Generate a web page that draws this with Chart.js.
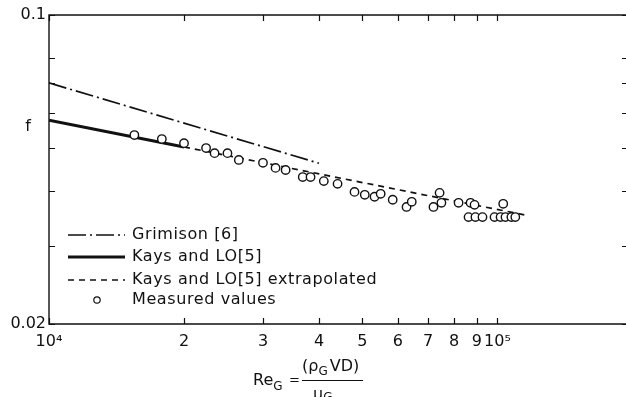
<!DOCTYPE html>
<html><head><meta charset="utf-8">
<script src="https://cdn.jsdelivr.net/npm/chart.js@4"></script>
<style>html,body{margin:0;padding:0;background:#fff;overflow:hidden}#wrap{width:626px;height:397px;position:relative}</style>
</head><body><div id="wrap"><canvas id="c" width="626" height="397"></canvas></div>
<script>
// ---- data ----
const grimisonRe = [1e4, 4e4];
const grimisonF  = [0.0702, 0.0462];
const kaysRe = [1e4, 2e4];
const kaysF  = [0.0578, 0.0503];
const extrapRe = [2e4, 1.15e5];
const extrapF  = [0.0503, 0.0353];
const measuredRe = [1.55e4,1.785e4,2.0e4,2.24e4,2.34e4,2.50e4,2.65e4,3.0e4,3.2e4,3.37e4,3.68e4,3.83e4,4.10e4,4.40e4,4.80e4,5.06e4,5.32e4,5.49e4,5.84e4,6.27e4,6.44e4,7.2e4,7.43e4,7.5e4,8.19e4,8.71e4,8.89e4,8.62e4,8.93e4,9.26e4,1.03e5,9.85e4,1.016e5,1.042e5,1.074e5,1.096e5];
const measuredF  = [0.0535,0.0524,0.0513,0.0500,0.0487,0.0487,0.0470,0.0463,0.0451,0.0446,0.0430,0.0430,0.0421,0.0415,0.0398,0.0392,0.0388,0.0394,0.0382,0.0368,0.0378,0.0368,0.0396,0.0376,0.0376,0.0376,0.0372,0.0349,0.0349,0.0349,0.0374,0.0349,0.0349,0.0349,0.0349,0.0349];
const xTickValues = [1e4,2e4,3e4,4e4,5e4,6e4,7e4,8e4,9e4,1e5];
const xTickLabels = ['10\u2074','2','3','4','5','6','7','8','9','10\u2075'];
const yTickValues = [0.02,0.03,0.04,0.05,0.06,0.07,0.08,0.1];
const yTickLabels = ['0.02','','','','','','','0.1'];
const legendLabels = ['Grimison [6]','Kays and LO[5]','Kays and LO[5] extrapolated','Measured values'];

const pts = (xs, ys) => xs.map((x, i) => ({x: x, y: ys[i]}));
const FONT = 'DejaVu Sans';
const INK = '#111';

const decor = {
  id: 'decor',
  afterDatasetsDraw(chart) {
    const ctx = chart.ctx, a = chart.chartArea;
    const xs = chart.scales.x, ys = chart.scales.y;
    const R = chart.width + 2;
    ctx.save();
    ctx.strokeStyle = INK; ctx.lineWidth = 1.4; ctx.setLineDash([]);
    // frame: right side lies just beyond the picture edge
    ctx.beginPath();
    ctx.moveTo(R, a.top); ctx.lineTo(a.left, a.top);
    ctx.lineTo(a.left, a.bottom); ctx.lineTo(R, a.bottom);
    ctx.stroke();
    ctx.lineWidth = 1.2;
    ctx.beginPath();
    xTickValues.forEach(v => {
      const p = Math.round(xs.getPixelForValue(v)) + 0.5;
      ctx.moveTo(p, a.bottom); ctx.lineTo(p, a.bottom - 6);
      ctx.moveTo(p, a.top); ctx.lineTo(p, a.top + 6);
    });
    yTickValues.forEach(v => {
      const p = Math.round(ys.getPixelForValue(v)) + 0.5;
      ctx.moveTo(a.left, p); ctx.lineTo(a.left + 6, p);
      ctx.moveTo(R, p); ctx.lineTo(chart.width - 4, p);
    });
    ctx.stroke();

    // legend
    const ds = chart.data.datasets;
    const rows = [235, 257, 280, 300];
    for (let i = 0; i < 3; i++) {
      const d = ds[i];
      ctx.beginPath();
      ctx.lineWidth = d.borderWidth; ctx.strokeStyle = INK;
      ctx.setLineDash(d.borderDash || []);
      ctx.moveTo(68, rows[i]); ctx.lineTo(125, rows[i]);
      ctx.stroke();
    }
    ctx.setLineDash([]);
    ctx.beginPath(); ctx.lineWidth = 1.2;
    ctx.arc(97, rows[3], 3.2, 0, Math.PI * 2); ctx.stroke();
    ctx.font = '16px ' + FONT; ctx.fillStyle = INK; ctx.textBaseline = 'middle';
    try { ctx.letterSpacing = '0.6px'; } catch (e) {}
    legendLabels.forEach((t, i) => ctx.fillText(t, 132, rows[i]));
    try { ctx.letterSpacing = '0px'; } catch (e) {}

    // y title
    ctx.font = '16px ' + FONT; ctx.textAlign = 'center';
    ctx.fillText('f', 28, 127);

    // x title
    ctx.textAlign = 'left'; ctx.textBaseline = 'alphabetic';
    ctx.font = '16px ' + FONT;
    ctx.fillText('Re', 253, 385);
    let w = ctx.measureText('Re').width;
    ctx.font = '12px ' + FONT; ctx.fillText('G', 253 + w, 390);
    ctx.font = '13px ' + FONT; ctx.fillText('=', 289, 384);
    ctx.font = '16px ' + FONT;
    ctx.fillText('(\u03C1', 302, 371);
    w = ctx.measureText('(\u03C1').width;
    ctx.font = '12px ' + FONT; ctx.fillText('G', 302 + w, 375);
    const w2 = ctx.measureText('G').width;
    ctx.font = '16px ' + FONT; ctx.fillText('VD)', 302 + w + w2 + 2, 371);
    ctx.beginPath(); ctx.lineWidth = 1.2;
    ctx.moveTo(302, 380.5); ctx.lineTo(363, 380.5); ctx.stroke();
    ctx.fillText('\u03BC', 313, 399);
    w = ctx.measureText('\u03BC').width;
    ctx.font = '12px ' + FONT; ctx.fillText('G', 313 + w, 401);
    ctx.restore();
  }
};

new Chart(document.getElementById('c'), {
  type: 'scatter',
  data: {
    datasets: [
      {label: legendLabels[0], data: pts(grimisonRe, grimisonF), showLine: true, borderColor: INK, borderWidth: 1.7, borderDash: [18, 4, 2, 4], pointRadius: 0, order: 1},
      {label: legendLabels[1], data: pts(kaysRe, kaysF), showLine: true, borderColor: INK, borderWidth: 3, pointRadius: 0, order: 1},
      {label: legendLabels[2], data: pts(extrapRe, extrapF), showLine: true, borderColor: INK, borderWidth: 1.7, borderDash: [6, 5], pointRadius: 0, order: 1},
      {label: legendLabels[3], data: pts(measuredRe, measuredF), showLine: false, borderColor: INK, backgroundColor: '#fff', borderWidth: 1.4, pointRadius: 4.2, pointHoverRadius: 4.2, order: 0}
    ]
  },
  options: {
    responsive: false, animation: false, devicePixelRatio: 1,
    layout: {padding: {top: 15, right: 0, left: 0, bottom: 0}},
    plugins: {legend: {display: false}, tooltip: {enabled: false}},
    scales: {
      x: {
        type: 'logarithmic', min: 1e4, max: 1.88e5,
        grid: {display: false}, border: {display: false},
        afterBuildTicks: s => { s.ticks = xTickValues.map(v => ({value: v})); },
        afterFit: s => { s.height = 73; },
        ticks: {autoSkip: false, maxRotation: 0, padding: 0, color: INK, font: {family: FONT, size: 16},
          callback: (v, i) => xTickLabels[i]}
      },
      y: {
        type: 'logarithmic', min: 0.02, max: 0.1,
        grid: {display: false}, border: {display: false},
        afterBuildTicks: s => { s.ticks = yTickValues.map(v => ({value: v})); },
        afterFit: s => { s.width = 49; },
        ticks: {autoSkip: false, padding: -5, color: INK, font: {family: FONT, size: 16},
          callback: (v, i) => yTickLabels[i]}
      }
    }
  },
  plugins: [decor]
});
</script></body></html>
